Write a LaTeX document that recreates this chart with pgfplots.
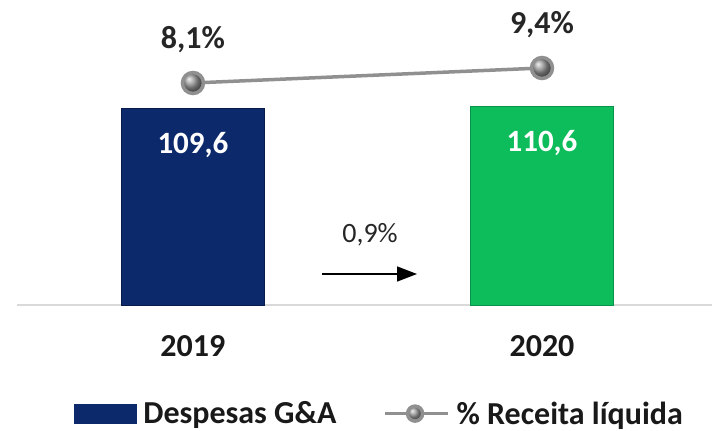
\documentclass[border=0pt]{standalone}
\usepackage{pgfplots}
\pgfplotsset{compat=1.18}
\usepackage{fontspec}
\setmainfont{Carlito}
\usetikzlibrary{arrows.meta}

\definecolor{navy}{HTML}{0C2A6B}
\definecolor{navyedge}{HTML}{071A48}
\definecolor{barGreen}{HTML}{0DBD5B}
\definecolor{greenedge}{HTML}{08934A}
\definecolor{lineGray}{HTML}{909090}
\definecolor{txt}{HTML}{262626}

\newcommand{\lblfont}{\fontsize{32bp}{38bp}\selectfont\bfseries}
\newcommand{\barfont}{\fontsize{31bp}{36bp}\selectfont\bfseries}

\begin{document}
\begin{tikzpicture}
\path[use as bounding box] (-17bp,-126bp) rectangle (698bp,305bp);

% bars
\begin{axis}[
    at={(0,0)}, anchor=south west,
    scale only axis,
    width=695bp, height=285bp,
    xmin=-0.504, xmax=1.487,
    ymin=0, ymax=158.6,
    ybar, bar width=143bp,
    axis x line*=bottom,
    axis y line=none,
    x axis line style={draw=black!15, line width=1.5bp, -},
    xtick={0,1},
    xticklabels={2019,2020},
    major tick length=0pt,
    xticklabel style={font=\lblfont, text=black!90, inner sep=0pt, yshift=-30bp},
    nodes near coords,
    nodes near coords align=below,
    every node near coord/.append style={font=\barfont, text=white, inner sep=0pt, yshift=-24bp},
    /pgf/number format/.cd, use comma, fixed, fixed zerofill, precision=1, assume math mode=true,
]
\addplot[bar shift=0pt, fill=navy, draw=navyedge, line width=1bp] coordinates {(0,109.6)};
\addplot[bar shift=0pt, fill=barGreen, draw=greenedge, line width=1bp] coordinates {(1,110.6)};
\end{axis}

% share of net revenue
\begin{axis}[
    at={(0,0)}, anchor=south west,
    scale only axis,
    width=695bp, height=285bp,
    xmin=-0.504, xmax=1.487,
    ymin=-11.14, ymax=13.56,
    hide axis,
    legend style={at={(0.520,-0.381)}, anchor=center, draw=none, fill=none,
        font=\lblfont, text=black!90, inner sep=0pt, column sep=0pt,
        nodes={inner sep=0pt},
        /tikz/every odd column/.append style={column sep=7bp},
        /tikz/every even column/.append style={column sep=47bp}},
    legend columns=2,
    /pgf/number format/.cd, use comma, fixed, fixed zerofill, precision=1, assume math mode=true,
]
\addlegendimage{legend image code/.code={\fill[navy] (0bp,-9.5bp) rectangle (62bp,9.5bp);}}
\addlegendentry{Despesas G\&A}
\addplot[draw=lineGray, line width=3.5bp,
    mark=ball, mark size=10.5bp, mark options={ball color=gray!85},
    nodes near coords={\pgfmathprintnumber{\pgfplotspointmeta}\%},
    nodes near coords align=above,
    every node near coord/.append style={font=\lblfont, text=txt, inner sep=0pt, yshift=28bp},
    legend image code/.code={
        \draw[lineGray, line width=3bp] (0bp,0bp) -- (63bp,0bp);
        \shade[ball color=gray!85] (30bp,0bp) circle (7.5bp);}
] coordinates {(0,8.1) (1,9.4)};
\addlegendentry{\% Receita líquida}
\end{axis}

\draw[line width=1.5bp, -{Triangle[length=20bp,width=15bp]}] (305bp,31bp) -- (400bp,31bp);
\node[font=\fontsize{28bp}{34bp}\selectfont, text=txt] at (353bp,70bp) {0,9\%};
\end{tikzpicture}
\end{document}
